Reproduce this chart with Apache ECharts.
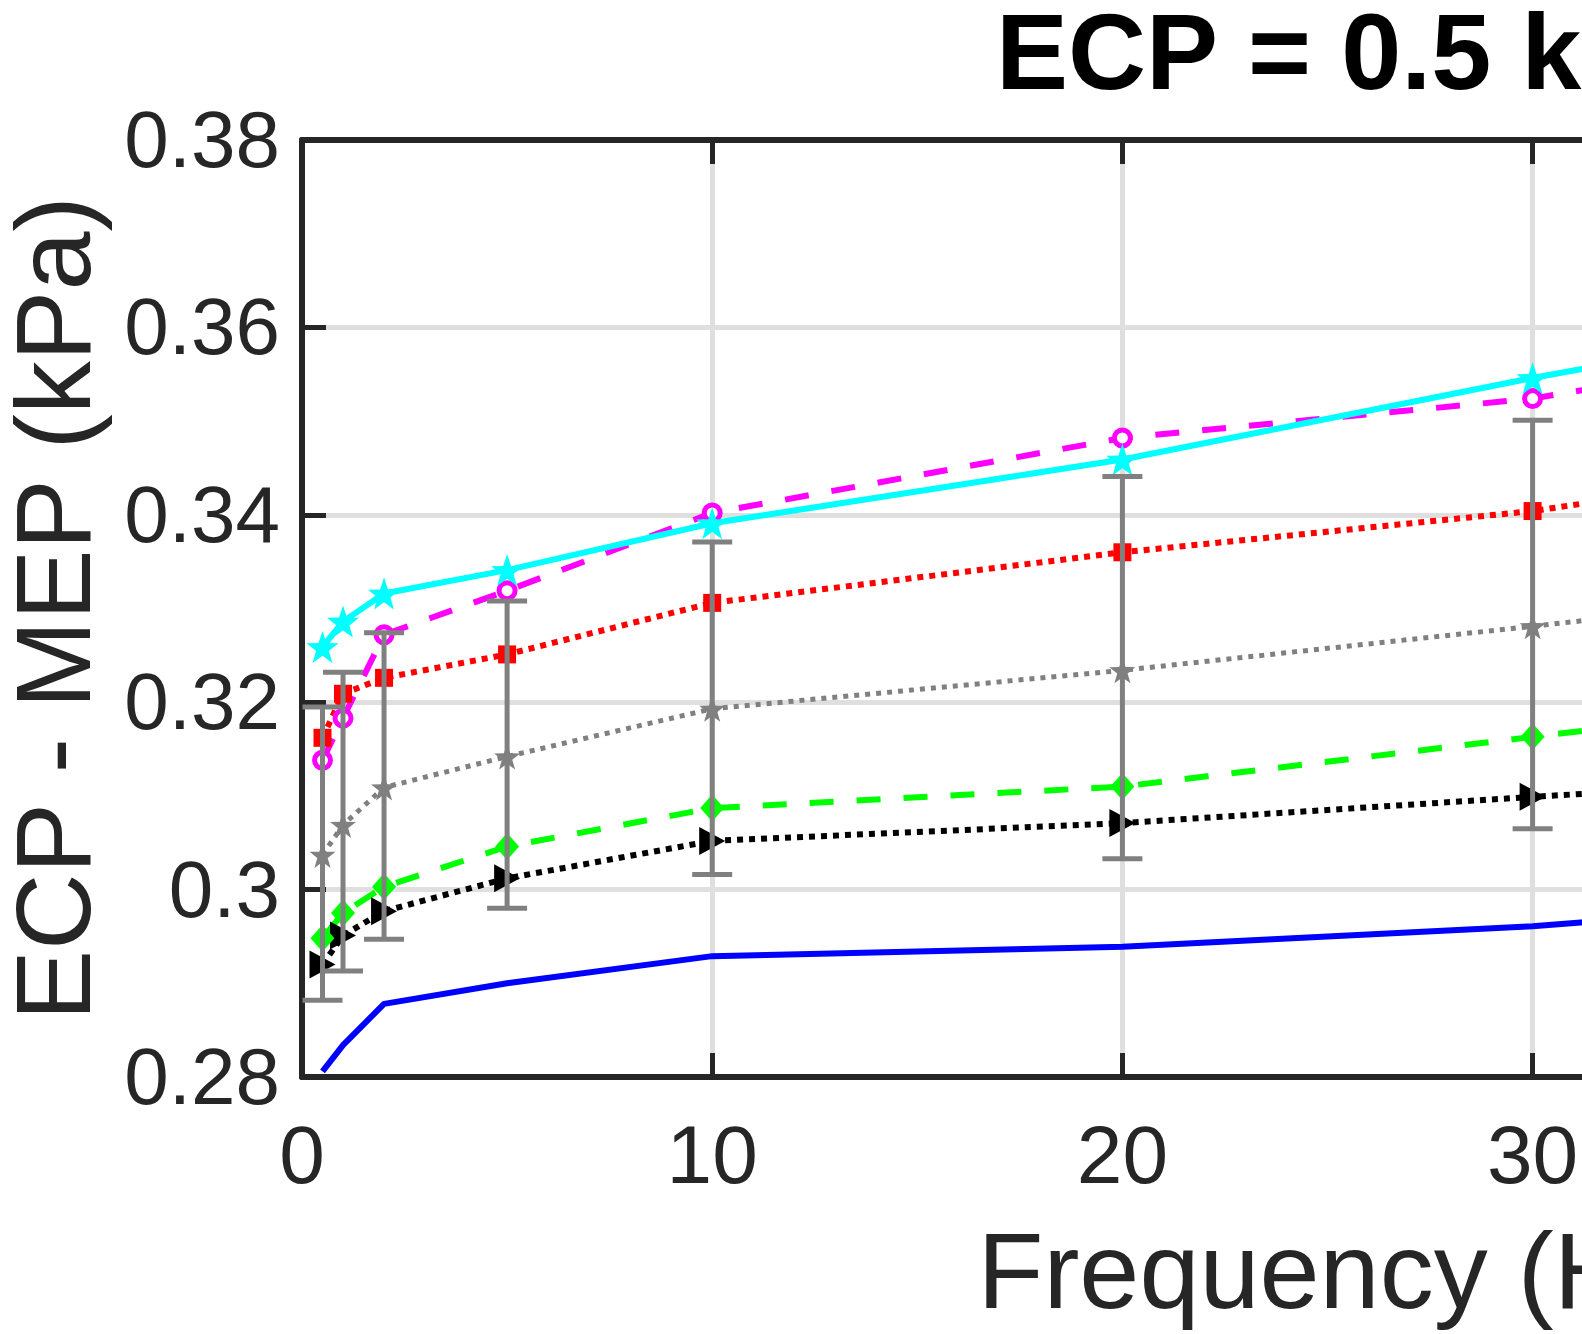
<!DOCTYPE html>
<html>
<head>
<meta charset="utf-8">
<script src="https://cdn.jsdelivr.net/npm/echarts@6/dist/echarts.min.js"></script>
<style>
  html, body { margin: 0; padding: 0; background: #fff; width: 1582px; height: 1334px; overflow: hidden; }
  #chart { width: 2400px; height: 1334px; }
</style>
</head>
<body>
<div id="chart"></div>
<script>
// frequencies (Hz)
const freq = [0.5, 1, 2, 5, 10, 20, 30, 40, 50]
// ECP - MEP (kPa) per curve
const blueVals = [0.2806, 0.2834, 0.2878, 0.2900, 0.2929, 0.2939, 0.2961, 0.2995, 0.3030]
const cyanVals = [0.3259, 0.3286, 0.3316, 0.3341, 0.3391, 0.3459, 0.3546, 0.3626, 0.3700]
const magentaVals = [0.3138, 0.3183, 0.3272, 0.3319, 0.3402, 0.3482, 0.3524, 0.3599, 0.3670]
const redVals = [0.3162, 0.3209, 0.3226, 0.3251, 0.3306, 0.3360, 0.3404, 0.3469, 0.3530]
const grayVals = [0.3037, 0.3069, 0.3109, 0.3142, 0.3193, 0.3234, 0.3281, 0.3330, 0.3375]
const greenVals = [0.2948, 0.2975, 0.3003, 0.3046, 0.3087, 0.3110, 0.3163, 0.3215, 0.3260]
const blackVals = [0.2920, 0.2951, 0.2977, 0.3012, 0.3052, 0.3071, 0.3099, 0.3125, 0.3150]
// error bar ends for the gray curve
const errLow = [0.2882, 0.2913, 0.2947, 0.2980, 0.3016, 0.3033, 0.3065, 0.3100, 0.3140]
const errHigh = [0.3195, 0.3232, 0.3274, 0.3308, 0.3371, 0.3441, 0.3501, 0.3560, 0.3610]
const yTicks = [0.28, 0.3, 0.32, 0.34, 0.36, 0.38]

const FONT = 'Liberation Sans'
const AXIS = '#262626'
const STAR = 'path://M0,-10 L2.35,-3.24 L9.51,-3.09 L3.8,1.24 L5.88,8.09 L0,4 L-5.88,8.09 L-3.8,1.24 L-9.51,-3.09 L-2.35,-3.24 Z'

const pts = vals => freq.map((f, i) => [f, vals[i]])

function lineSeries(name, vals, color, type, opts) {
  return Object.assign({
    name: name,
    type: 'line',
    data: pts(vals),
    showSymbol: true,
    symbol: 'none',
    lineStyle: { color: color, width: 6, type: type, cap: 'butt' },
    itemStyle: { color: color },
    animation: false
  }, opts || {})
}

// the chart is wider than the window: the figure is cut at the right edge
const chart = echarts.init(document.getElementById('chart'))

const option = {
  backgroundColor: '#fff',
  animation: false,
  title: {
    text: 'ECP = 0.5 kPa',
    left: 991,
    top: 0,
    textStyle: { fontFamily: FONT, fontSize: 108, fontWeight: 'bold', color: '#000' }
  },
  grid: {
    left: 302, top: 140, width: 2051, height: 937,
    containLabel: false,
    outerBoundsMode: 'none'
  },
  xAxis: [{
    type: 'value',
    min: 0,
    max: 50,
    interval: 10,
    name: 'Frequency (Hz)',
    nameLocation: 'middle',
    nameGap: 147,
    nameTextStyle: { fontFamily: FONT, fontSize: 108, color: AXIS, padding: [0, 0, 0, 44] },
    axisLine: { show: true, onZero: false, lineStyle: { color: AXIS, width: 6 } },
    axisTick: { show: true, inside: true, length: 24, lineStyle: { color: AXIS, width: 5 } },
    axisLabel: { fontFamily: FONT, fontSize: 82, color: AXIS, margin: 42 },
    splitLine: { show: true, lineStyle: { color: '#dfdfdf', width: 5 } }
  }, {
    type: 'value',
    position: 'top',
    min: 0,
    max: 50,
    interval: 10,
    axisLine: { show: true, onZero: false, lineStyle: { color: AXIS, width: 6 } },
    axisTick: { show: true, inside: true, length: 24, lineStyle: { color: AXIS, width: 5 } },
    axisLabel: { show: false },
    splitLine: { show: false }
  }],
  yAxis: {
    type: 'value',
    min: yTicks[0],
    max: yTicks[yTicks.length - 1],
    interval: 0.02,
    name: 'ECP - MEP (kPa)',
    nameLocation: 'middle',
    nameGap: 187,
    nameTextStyle: { fontFamily: FONT, fontSize: 106, color: AXIS },
    axisLine: { show: true, onZero: false, lineStyle: { color: AXIS, width: 6 } },
    axisTick: { show: true, inside: true, length: 24, lineStyle: { color: AXIS, width: 5 } },
    // labels sit a little below their grid line, as in the original
    axisLabel: { fontFamily: FONT, fontSize: 80, color: AXIS, margin: 22, verticalAlign: 'top', lineHeight: 10 },
    splitLine: { show: true, lineStyle: { color: '#dfdfdf', width: 5 } }
  },
  series: [
    lineSeries('model', blueVals, '#0000ff', 'solid'),
    lineSeries('black', blackVals, '#000000', [6, 6], {
      symbol: 'triangle', symbolSize: [28, 26], symbolRotate: -90
    }),
    lineSeries('green', greenVals, '#00ff00', [24, 23], {
      symbol: 'diamond', symbolSize: [24, 27]
    }),
    lineSeries('gray', grayVals, '#808080', [6, 6], {
      symbol: STAR, symbolSize: 26,
      lineStyle: { color: '#808080', width: 5, type: [5, 6], cap: 'butt' }
    }),
    lineSeries('red', redVals, '#ff0000', [6, 6], {
      symbol: 'rect', symbolSize: 18
    }),
    lineSeries('magenta', magentaVals, '#ff00ff', [24, 23], {
      symbol: 'circle', symbolSize: 16,
      itemStyle: { color: '#ffffff', borderColor: '#ff00ff', borderWidth: 5 }
    }),
    lineSeries('cyan', cyanVals, '#00ffff', 'solid', {
      symbol: STAR, symbolSize: 32
    }),
    {
      name: 'error',
      type: 'custom',
      z: 10,
      data: freq.map((f, i) => [f, errLow[i], errHigh[i]]),
      encode: { x: 0, y: [1, 2] },
      renderItem: function (params, api) {
        const lo = api.coord([api.value(0), api.value(1)])
        const hi = api.coord([api.value(0), api.value(2)])
        const half = 20
        const style = { stroke: '#808080', lineWidth: 5 }
        return {
          type: 'group',
          children: [
            { type: 'line', shape: { x1: lo[0], y1: lo[1], x2: hi[0], y2: hi[1] }, style: style },
            { type: 'line', shape: { x1: lo[0] - half, y1: lo[1], x2: lo[0] + half, y2: lo[1] }, style: style },
            { type: 'line', shape: { x1: hi[0] - half, y1: hi[1], x2: hi[0] + half, y2: hi[1] }, style: style }
          ]
        }
      }
    }
  ]
}

chart.setOption(option)
</script>
</body>
</html>
